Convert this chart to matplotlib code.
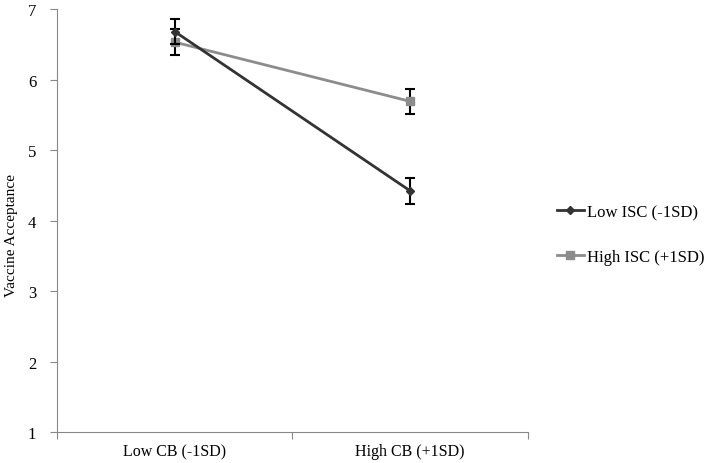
import numpy as np
import matplotlib.pyplot as plt

plt.rcParams['font.family'] = ['Liberation Serif', 'DejaVu Serif']

categories = ['Low CB (-1SD)', 'High CB (+1SD)']
low_isc = [6.68, 4.42]
low_isc_err = [0.18, 0.19]
high_isc = [6.53, 5.69]
high_isc_err = [0.18, 0.18]
series_names = ['Low ISC (-1SD)', 'High ISC (+1SD)']

fig = plt.figure(figsize=(7.09, 4.64), dpi=100)
ax = fig.add_axes([0.0804, 0.0668, 0.6643, 0.9116])

x = np.arange(len(categories)) + 0.5

ax.errorbar(x, low_isc, yerr=low_isc_err, color='#333333', marker='D', markersize=4,
            linewidth=2, ecolor='black', elinewidth=1.5, capsize=3.5, capthick=1.5,
            label=series_names[0], zorder=3)
ax.errorbar(x, high_isc, yerr=high_isc_err, color='#8c8c8c', marker='s', markersize=6,
            linewidth=2, ecolor='black', elinewidth=1.5, capsize=3.5, capthick=1.5,
            label=series_names[1], zorder=2)

ax.set_xlim(0, 2)
ax.set_ylim(1, 7)
ax.set_yticks(range(1, 8))
ax.set_xticks([0, 1, 2])
ax.set_xticklabels([])
ax.set_xticks(x, minor=True)
ax.set_xticklabels(categories, minor=True)
ax.tick_params(axis='x', which='minor', length=0, pad=8, labelsize=11.5)
ax.tick_params(axis='x', which='major', length=5, color='#888888')
ax.tick_params(axis='y', length=5, color='#888888', labelsize=12, pad=10)

for s in ['top', 'right']:
    ax.spines[s].set_visible(False)
for s in ['left', 'bottom']:
    ax.spines[s].set_color('#888888')

ax.set_ylabel('Vaccine Acceptance', fontsize=11)
ax.yaxis.set_label_coords(-0.082, 0.468)

handles, labels = ax.get_legend_handles_labels()
handles = [h[0] for h in handles]
fig.legend(handles, labels, loc='center left', bbox_to_anchor=(0.785, 0.4925),
           frameon=False, fontsize=12, handlelength=1.65, labelspacing=1.75,
           handletextpad=0.18, borderpad=0, borderaxespad=0)

fig.savefig('out.png', dpi=100)
